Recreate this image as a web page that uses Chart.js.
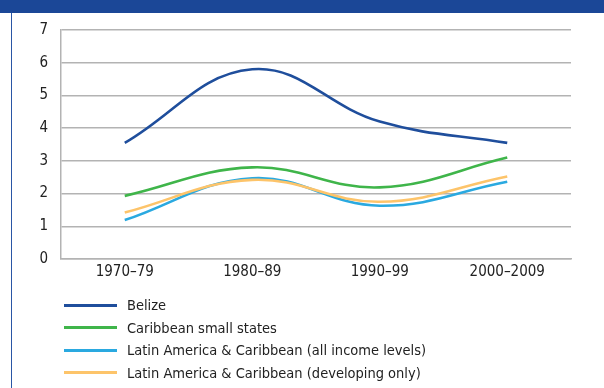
<!DOCTYPE html>
<html>
<head>
<meta charset="utf-8">
<script src="https://cdn.jsdelivr.net/npm/chart.js@4.4.1/dist/chart.umd.min.js"></script>
<style>
  body { margin: 0; width: 604px; height: 388px; background: #fff; overflow: hidden; position: relative; font-family: "Liberation Sans Narrow", "DejaVu Sans Condensed", sans-serif; }
  #topbar { position: absolute; left: 0; top: 0; width: 604px; height: 13px; background: #1b4797; }
  #leftline { position: absolute; left: 11px; top: 13px; width: 1px; height: 375px; background: #2a56a5; }
  #wrap { position: absolute; left: 0; top: 0; width: 604px; height: 388px; }
  #legend { position: absolute; left: 64px; top: 294px; font-size: 14.5px; color: #222; }
  .item { height: 22.5px; display: flex; align-items: center; }
  .swatch { width: 53px; height: 3px; margin-right: 10px; }
</style>
</head>
<body>
<div id="topbar"></div>
<div id="leftline"></div>
<div id="wrap"><canvas id="chart"></canvas></div>
<div id="legend"></div>
<script>
// Dữ liệu
const categories = ['1970–79', '1980–89', '1990–99', '2000–2009'];
const seriesNames = [
    'Belize',
    'Caribbean small states',
    'Latin America & Caribbean (all income levels)',
    'Latin America & Caribbean (developing only)'
];
const belize = [3.55, 5.8, 4.2, 3.55];
const caribbeanSmall = [1.93, 2.8, 2.19, 3.1];
const latamAll = [1.19, 2.47, 1.63, 2.36];
const latamDev = [1.42, 2.42, 1.75, 2.52];
const yTicks = [0, 1, 2, 3, 4, 5, 6, 7];
const colors = ['#1f4e9c', '#3fb54a', '#2aa9e0', '#fdc46a'];

const allValues = [belize, caribbeanSmall, latamAll, latamDev];
const font = '"Liberation Sans Narrow", "DejaVu Sans Condensed", sans-serif';

const ctx = document.getElementById('chart').getContext('2d');
new Chart(ctx, {
    type: 'line',
    data: {
        labels: categories,
        datasets: allValues.map((vals, i) => ({
            label: seriesNames[i],
            data: vals,
            borderColor: colors[i],
            borderWidth: 2.6,
            pointRadius: 0,
            tension: 0.4,
            fill: false
        })).reverse()
    },
    options: {
        responsive: true,
        maintainAspectRatio: false,
        animation: false,
        layout: { padding: { left: 11, top: 30, right: 33, bottom: 105 } },
        plugins: { legend: { display: false }, tooltip: { enabled: false } },
        scales: {
            x: {
                offset: true,
                grid: { display: false, drawTicks: false },
                border: { color: '#b3b3b3', width: 1.5 },
                ticks: { color: '#222', font: { family: font, size: 15 }, padding: 4, maxRotation: 0 },
                afterFit: s => { s.height = 24; }
            },
            y: {
                min: 0,
                max: 7,
                afterBuildTicks: s => { s.ticks = yTicks.map(v => ({ value: v })); },
                grid: { color: '#b3b3b3', lineWidth: 1.5, drawTicks: false },
                border: { color: '#b3b3b3', width: 1.5 },
                ticks: { color: '#222', font: { family: font, size: 15 }, padding: 13 },
                afterFit: s => { s.width = 50; }
            }
        }
    }
});

// Chú giải dạng danh sách dọc
const legend = document.getElementById('legend');
seriesNames.forEach((name, i) => {
    const row = document.createElement('div');
    row.className = 'item';
    row.innerHTML = '<span class="swatch" style="background:' + colors[i] + '"></span><span></span>';
    row.lastChild.textContent = name;
    legend.appendChild(row);
});
</script>
</body>
</html>
